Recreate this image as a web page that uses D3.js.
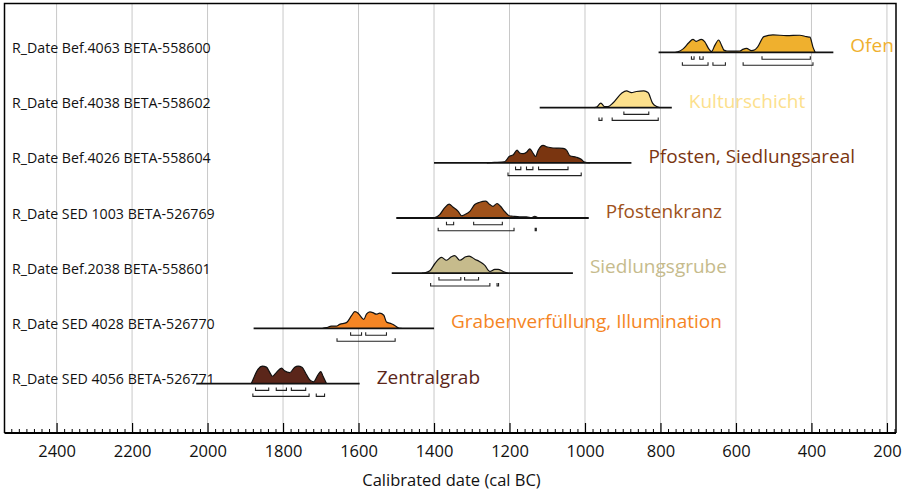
<!DOCTYPE html>
<html><head><meta charset="utf-8">
<script src="https://cdn.jsdelivr.net/npm/d3@7/dist/d3.min.js"></script>
<style>
html,body{margin:0;padding:0;background:#fff;}
svg{display:block;}
text{font-family:"Open Sans","Noto Sans",sans-serif;}
</style></head>
<body>
<svg id="c" width="902" height="492"></svg>
<script>
// ---------------- data ----------------
const sampleLabels = [
  "R_Date Bef.4063 BETA-558600",
  "R_Date Bef.4038 BETA-558602",
  "R_Date Bef.4026 BETA-558604",
  "R_Date SED 1003 BETA-526769",
  "R_Date Bef.2038 BETA-558601",
  "R_Date SED 4028 BETA-526770",
  "R_Date SED 4056 BETA-526771"
];
const contextNames = [
  "Ofen", "Kulturschicht", "Pfosten, Siedlungsareal", "Pfostenkranz",
  "Siedlungsgrube", "Grabenverfüllung, Illumination", "Zentralgrab"
];
const seriesColors = ["#EFB02E", "#FCE08C", "#7A3510", "#A0521B", "#C6BB8C", "#F58524", "#5B261A"];
// plotted time window for each sample (cal BC)
const plotRanges = [[805, 342], [1120, 770], [1400, 877], [1500, 990], [1512, 1032], [1878, 1400], [2030, 1597]];
const xTicks = [2400, 2200, 2000, 1800, 1600, 1400, 1200, 1000, 800, 600, 400, 200];

// posterior densities [year cal BC, relative probability]
const densOfen = [[760,0],[754,0.03],[740,0.2],[725,0.55],[714,0.75],[705,0.63],[692,0.75],[683,0.62],[672,0.2],[665,0.04],[656,0.4],[646,0.71],[638,0.4],[632,0.13],[624,0.08],[605,0.07],[590,0.08],[582,0.17],[572,0.23],[559,0.1],[550,0.15],[542,0.33],[526,0.9],[502,1.0],[466,0.96],[431,0.98],[413,0.9],[404,0.87],[396,0.3],[390,0]];
const densKultur = [[975,0],[969,0.03],[958,0.26],[948,0.06],[939,0.06],[926,0.26],[903,0.82],[890,0.96],[877,0.86],[864,0.92],[844,0.96],[833,0.86],[821,0.26],[810,0.06],[802,0]];
const densPfosten = [[1260,0],[1240,0.02],[1213,0.06],[1201,0.36],[1190,0.46],[1180,0.72],[1173,0.56],[1164,0.52],[1155,0.6],[1146,0.8],[1138,0.56],[1131,0.36],[1124,0.72],[1111,1.0],[1102,0.92],[1089,0.86],[1076,0.84],[1058,0.82],[1049,0.72],[1040,0.4],[1023,0.32],[1010,0.2],[1001,0.04],[987,0]];
const densKranz = [[1405,0],[1398,0.02],[1385,0.19],[1372,0.58],[1360,0.79],[1350,0.63],[1336,0.38],[1327,0.13],[1319,0.19],[1305,0.38],[1292,0.77],[1279,0.9],[1263,0.96],[1252,0.77],[1244,0.67],[1233,0.83],[1224,0.67],[1213,0.38],[1201,0.13],[1191,0.1],[1173,0.06],[1155,0.06],[1142,0.02],[1133,0.1],[1124,0.02],[1111,0]];
const densGrube = [[1432,0],[1425,0.02],[1411,0.14],[1398,0.54],[1380,0.9],[1367,0.74],[1354,0.94],[1345,1.0],[1332,0.74],[1316,0.94],[1307,0.98],[1292,0.8],[1279,0.66],[1266,0.46],[1252,0.1],[1239,0.22],[1230,0.22],[1217,0.1],[1204,0]];
const densGraben = [[1695,0],[1685,0.04],[1672,0.13],[1659,0.13],[1650,0.23],[1632,0.33],[1619,0.71],[1610,0.96],[1601,0.87],[1592,0.62],[1586,0.52],[1579,0.81],[1570,0.94],[1562,0.9],[1553,0.81],[1544,0.87],[1533,0.75],[1526,0.37],[1513,0.27],[1504,0.17],[1495,0.04],[1486,0]];
const densZentral = [[1884,0],[1878,0.31],[1866,0.83],[1855,1.0],[1844,0.94],[1835,0.63],[1828,0.42],[1818,0.63],[1804,0.88],[1796,0.73],[1782,0.63],[1769,0.94],[1760,1.0],[1750,0.94],[1738,0.52],[1729,0.21],[1719,0.1],[1707,0.52],[1700,0.69],[1694,0.42],[1685,0]];
const densities = [densOfen, densKultur, densPfosten, densKranz, densGrube, densGraben, densZentral];

// highest posterior density ranges [from, to] cal BC
const hpd68 = [
  [[718,711],[696,687],[531,403]],
  [[897,831]],
  [[1184,1170],[1155,1138],[1123,1045]],
  [[1367,1348],[1295,1219]],
  [[1387,1329],[1319,1282]],
  [[1621,1592],[1581,1526]],
  [[1873,1838],[1818,1791],[1778,1740]]
];
const hpd95 = [
  [[742,674],[661,628],[581,396]],
  [[963,955],[928,806]],
  [[1204,1010]],
  [[1389,1188],[1132,1129]],
  [[1409,1252],[1233,1229]],
  [[1657,1503]],
  [[1880,1731],[1712,1690]]
];

// ---------------- drawing ----------------
const svg = d3.select("#c");
const frame = {left: 4.5, right: 896, top: 3.5, axis: 433};

const x = d3.scaleLinear().domain([2538, 176]).range([frame.left, frame.right]);
const y = d3.scalePoint().domain(d3.range(sampleLabels.length)).range([52.4, 383.6]);
const h = d3.scaleLinear().domain([0, 1]).range([0, 17.5]);

// gridlines
svg.append("g").selectAll("line").data(xTicks).join("line")
  .attr("x1", d => x(d)).attr("x2", d => x(d))
  .attr("y1", frame.top).attr("y2", frame.axis)
  .attr("stroke", "#c8c8c8").attr("stroke-width", 1);

// frame (left, top, right)
svg.append("path")
  .attr("d", `M${frame.left},${frame.axis}V${frame.top}H${frame.right}V${frame.axis}`)
  .attr("fill", "none").attr("stroke", "#000").attr("stroke-width", 1.5);

// axis
const minorTicks = d3.range(2520, 179, -20).filter(v => v % 200 !== 0);
const axisMinor = d3.axisBottom(x).tickValues(minorTicks).tickSize(-4).tickFormat("");
const axisMajor = d3.axisBottom(x).tickValues(xTicks).tickSize(-10).tickPadding(12).tickFormat(d3.format("d"));
const gMinor = svg.append("g").attr("transform", `translate(0,${frame.axis})`).call(axisMinor);
gMinor.select(".domain").remove();
gMinor.selectAll("line").attr("stroke", "#000").attr("stroke-width", 1);
const gAxis = svg.append("g").attr("transform", `translate(0,${frame.axis})`).call(axisMajor);
gAxis.select(".domain").attr("d", `M${frame.left},0H${frame.right}`).attr("stroke-width", 1.8);
gAxis.selectAll("line").attr("stroke", "#000").attr("stroke-width", 1.2);
gAxis.selectAll("text").attr("font-size", 16.5).attr("fill", "#111")
  .style("font-family", "'Open Sans','Noto Sans',sans-serif");

svg.append("text").attr("x", 451.5).attr("y", 486)
  .attr("text-anchor", "middle").attr("font-size", 16.5).attr("fill", "#111")
  .text("Calibrated date (cal BC)");

// rows
const area = d3.area().x(d => x(d[0])).y0(0).y1(d => -h(d[1])).curve(d3.curveMonotoneX);
const line = d3.line().x(d => x(d[0])).y(d => -h(d[1])).curve(d3.curveMonotoneX);

sampleLabels.forEach((lab, i) => {
  const g = svg.append("g").attr("transform", `translate(0,${y(i)})`);
  g.append("text").attr("x", 12).attr("y", 0.5).attr("font-size", 14.2).attr("fill", "#111")
    .text(lab);
  g.append("path").attr("d", area(densities[i])).attr("fill", seriesColors[i]);
  g.append("path").attr("d", line(densities[i])).attr("fill", "none")
    .attr("stroke", "#111").attr("stroke-width", 1.2).attr("stroke-linejoin", "round");
  const r = plotRanges[i];
  g.append("line").attr("x1", x(r[0])).attr("x2", x(r[1])).attr("y1", 0).attr("y2", 0)
    .attr("stroke", "#111").attr("stroke-width", 1.8);
  const bracket = (rng, dy) => g.append("g").selectAll("path").data(rng).join("path")
    .attr("d", d => `M${x(d[0])},${dy - 3}V${dy}H${x(d[1])}V${dy - 3}`)
    .attr("fill", "none").attr("stroke", "#222").attr("stroke-width", 1.1);
  bracket(hpd68[i], 6.8);
  bracket(hpd95[i], 12.8);
  g.append("text").attr("x", x(r[1]) + 17).attr("y", 0).attr("font-size", 19)
    .attr("fill", seriesColors[i]).text(contextNames[i]);
});
</script>
</body></html>
